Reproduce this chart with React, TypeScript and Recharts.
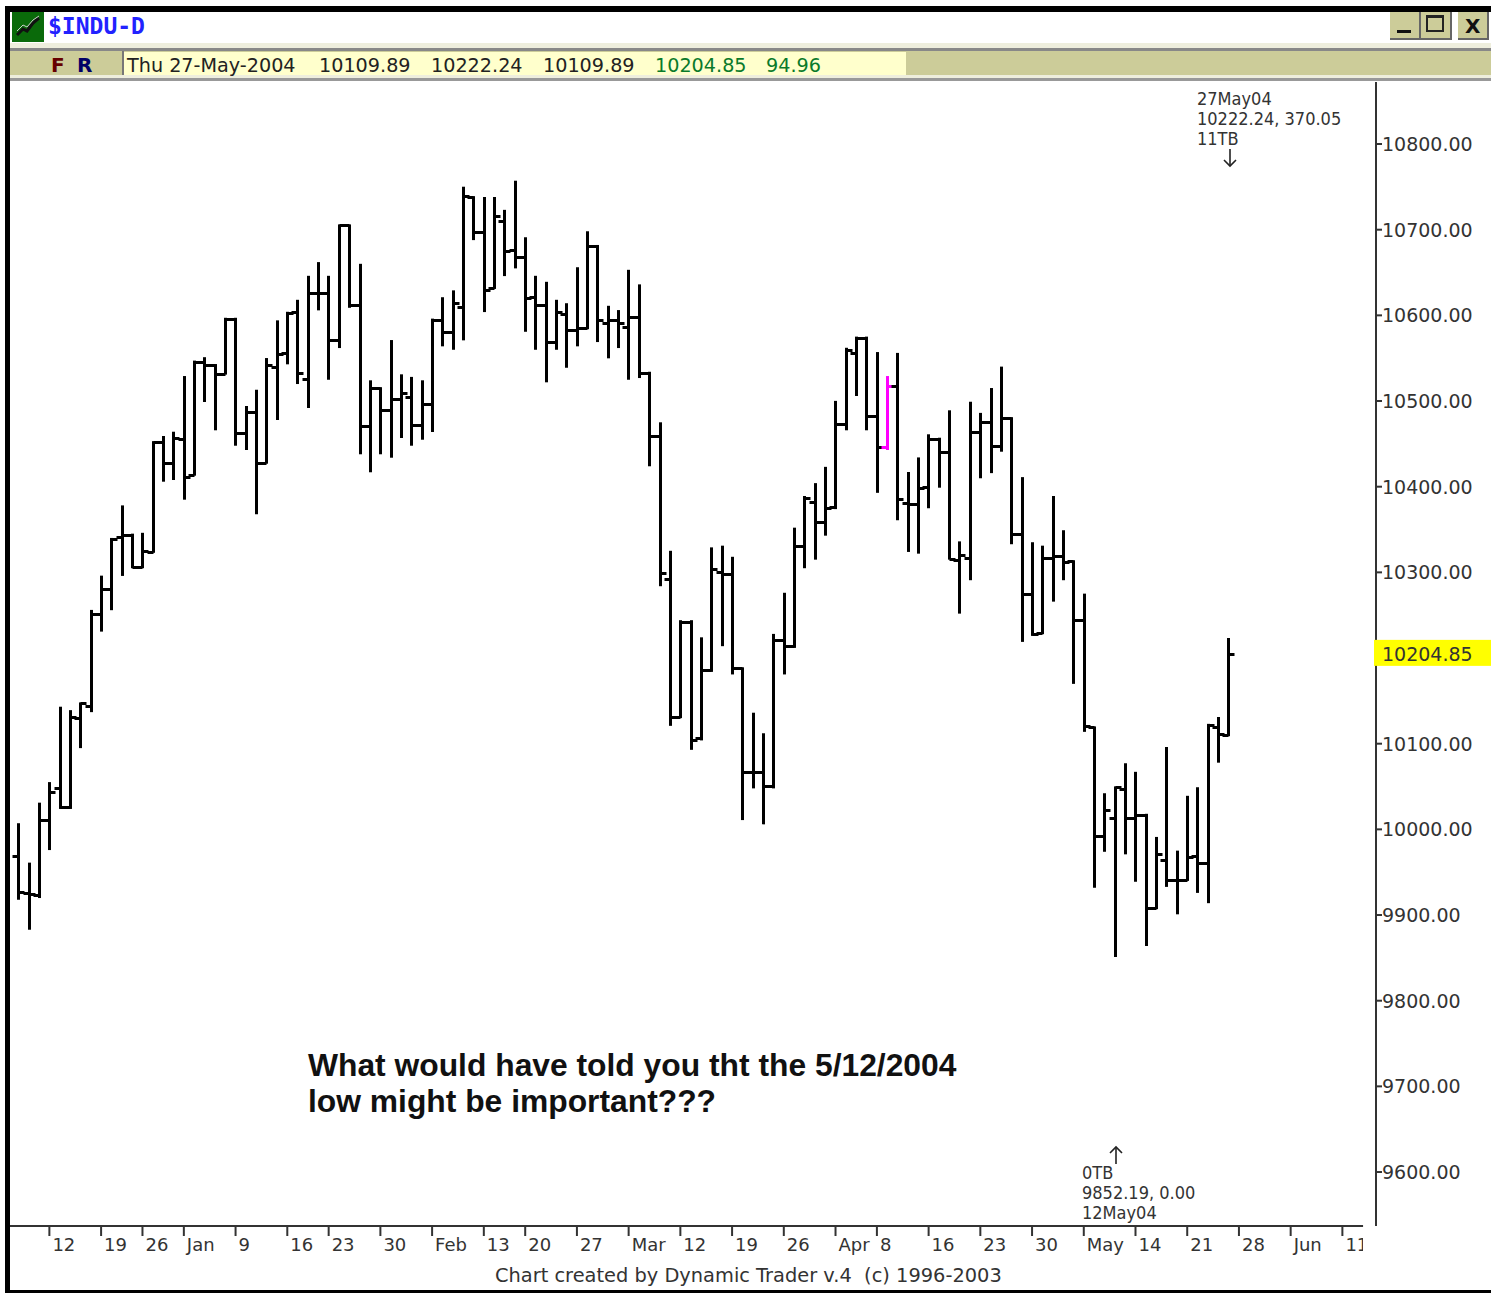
import { Bar, ComposedChart, ReferenceLine, XAxis, YAxis } from 'recharts';

const opens = [9969, 9926, 9923, 10011, 10048, 10026, 10130, 10144, 10251, 10281, 10341, 10344, 10306, 10324, 10452, 10428, 10456, 10414, 10546, 10542, 10532, 10596, 10463, 10487, 10428, 10540, 10556, 10604, 10526, 10626, 10626, 10571, 10705, 10612, 10471, 10515, 10489, 10502, 10505, 10472, 10496, 10595, 10581, 10610, 10738, 10697, 10632, 10710, 10676, 10668, 10621, 10612, 10569, 10602, 10583, 10585, 10681, 10591, 10595, 10586, 10598, 10533, 10459, 10292, 10131, 10242, 10107, 10186, 10300, 10298, 10188, 10067, 10067, 10051, 10221, 10214, 10331, 10382, 10359, 10376, 10473, 10556, 10574, 10482, 10446, 10518, 10381, 10380, 10400, 10456, 10440, 10314, 10317, 10464, 10475, 10447, 10480, 10345, 10275, 10229, 10317, 10319, 10313, 10244, 10119, 9992, 10013, 10047, 10013, 10017, 9908, 9964, 9941, 9941, 9969, 9961, 10119, 10109.89];
const highs = [10006, 9960, 10030, 10054, 10142, 10138, 10147, 10255, 10295, 10339, 10377, 10344, 10345, 10452, 10458, 10463, 10528, 10546, 10550, 10542, 10596, 10596, 10493, 10512, 10549, 10593, 10603, 10617, 10645, 10661, 10645, 10705, 10705, 10659, 10523, 10515, 10570, 10530, 10527, 10523, 10595, 10620, 10628, 10749, 10738, 10737, 10737, 10722, 10756, 10690, 10645, 10638, 10617, 10613, 10655, 10697, 10681, 10610, 10605, 10652, 10635, 10533, 10474, 10324, 10243, 10243, 10223, 10328, 10330, 10317, 10188, 10135, 10111, 10227, 10275, 10351, 10388, 10403, 10422, 10499, 10561, 10574, 10574, 10556, 10528, 10555, 10416, 10433, 10460, 10456, 10488, 10335, 10498, 10485, 10514, 10539, 10480, 10410, 10334, 10330, 10388, 10348, 10313, 10274, 10119, 10041, 10049, 10076, 10066, 10017, 9990, 10095, 9974, 10038, 10048, 10122, 10130, 10222.24];
const lows = [9919, 9884, 9921, 9977, 10025, 10025, 10096, 10138, 10232, 10257, 10297, 10306, 10306, 10324, 10407, 10409, 10386, 10414, 10500, 10467, 10532, 10449, 10444, 10369, 10428, 10479, 10544, 10521, 10493, 10607, 10526, 10563, 10610, 10439, 10418, 10439, 10435, 10458, 10449, 10456, 10465, 10565, 10561, 10572, 10689, 10605, 10632, 10647, 10656, 10582, 10561, 10523, 10561, 10540, 10565, 10585, 10570, 10551, 10563, 10526, 10528, 10425, 10285, 10122, 10131, 10094, 10105, 10185, 10215, 10182, 10012, 10049, 10007, 10049, 10182, 10213, 10306, 10316, 10344, 10375, 10467, 10507, 10467, 10394, 10444, 10362, 10325, 10323, 10376, 10400, 10316, 10253, 10292, 10411, 10417, 10442, 10334, 10220, 10227, 10229, 10267, 10292, 10171, 10115, 9933, 9975, 9852.19, 9972, 9940, 9865, 9908, 9934, 9902, 9941, 9927, 9915, 10079, 10109.89];
const closes = [9927, 9925, 10011, 10044, 10026, 10131, 10147, 10251, 10281, 10339, 10344, 10306, 10325, 10452, 10428, 10457, 10411, 10546, 10542, 10532, 10596, 10463, 10487, 10428, 10542, 10555, 10603, 10533, 10626, 10626, 10571, 10705, 10612, 10471, 10515, 10489, 10502, 10509, 10472, 10496, 10595, 10581, 10614, 10739, 10697, 10630, 10716, 10675, 10668, 10620, 10612, 10569, 10604, 10583, 10585, 10681, 10595, 10595, 10591, 10598, 10533, 10459, 10299, 10131, 10242, 10104, 10186, 10304, 10298, 10188, 10067, 10067, 10051, 10221, 10214, 10331, 10387, 10359, 10375, 10473, 10560, 10574, 10482, 10446, 10518, 10386, 10380, 10398, 10456, 10440, 10316, 10320, 10464, 10475, 10447, 10480, 10345, 10275, 10228, 10317, 10319, 10312, 10244, 10121, 9992, 10023, 10049, 10013, 10017, 9908, 9971, 9941, 9941, 9968, 9961, 10122, 10111, 10204.85];

const highlightBar = 84;
const lastPrice = 10204.85;

const dateTickBars = [3, 8, 12, 16, 21, 26, 30, 35, 40, 45, 49, 54, 59, 64, 69, 74, 79, 83, 88, 93, 98, 103, 108, 113, 118, 123, 128];
const dateTickLabels = ['12', '19', '26', 'Jan', '9', '16', '23', '30', 'Feb', '13', '20', '27', 'Mar', '12', '19', '26', 'Apr', '8', '16', '23', '30', 'May', '14', '21', '28', 'Jun', '11'];
const priceTicks = [9600, 9700, 9800, 9900, 10000, 10100, lastPrice, 10300, 10400, 10500, 10600, 10700, 10800];

const bars = opens.map((open, i) => ({ idx: i, open, high: highs[i], low: lows[i], close: closes[i] }));

const uiFont = '"DejaVu Sans", sans-serif';
const smallFont = '"DejaVu Sans Condensed", "DejaVu Sans", sans-serif';
const headFont = '"Liberation Sans", sans-serif';
const khaki = '#cccc99';

const OhlcBar = (props: any) => {
  const { x, y, width, height, payload } = props;
  // snap to the pixel grid, the original is a bitmap
  const cx = Math.floor(x + width / 2) + 0.5;
  const perUnit = height / (payload.high - payload.low);
  const openY = Math.round(y + (payload.high - payload.open) * perUnit) + 0.5;
  const closeY = Math.round(y + (payload.high - payload.close) * perUnit) + 0.5;
  const color = payload.idx === highlightBar ? '#ff00ff' : '#000';
  return (
    <g stroke={color} strokeWidth={3}>
      <line x1={cx} x2={cx} y1={y - 1} y2={y + height + 1} />
      <line x1={cx - 6} x2={cx} y1={openY} y2={openY} />
      <line x1={cx} x2={cx + 6} y1={closeY} y2={closeY} />
    </g>
  );
};

const DateTick = ({ x, y, payload }: any) => (
  <g>
    <line x1={x} x2={x} y1={y - 10} y2={y} stroke="#333" strokeWidth={2} />
    <text x={x + 3} y={y + 15} fontFamily={uiFont} fontSize={18} fill="#333">
      {dateTickLabels[dateTickBars.indexOf(payload.value)]}
    </text>
  </g>
);

const PriceTick = ({ x, y, payload }: any) => {
  const isLast = payload.value === lastPrice;
  return (
    <g>
      {isLast ? (
        <rect x={x - 8} y={y - 14} width={117} height={26} fill="#ffff00" />
      ) : (
        <line x1={x - 6} x2={x} y1={y} y2={y} stroke="#333" strokeWidth={2} />
      )}
      <text x={x} y={y + 7} fontFamily={uiFont} fontSize={19} fill="#333">
        {payload.value.toFixed(2)}
      </text>
    </g>
  );
};

const Label = ({ x, y, children, style }: any) => (
  <div style={{ position: 'absolute', left: x, top: y, whiteSpace: 'pre', zIndex: 3, lineHeight: 1, ...style }}>
    {children}
  </div>
);

const Box = ({ x, y, w, h, color, style }: any) => (
  <div style={{ position: 'absolute', left: x, top: y, width: w, height: h, background: color, zIndex: 2, ...style }} />
);

const WindowButton = ({ x, w, children }: any) => (
  <div
    style={{
      position: 'absolute', left: x, top: 12, width: w, height: 28, background: khaki, zIndex: 3,
      borderRight: '2px solid #666', borderBottom: '2px solid #666', boxSizing: 'border-box',
    }}
  >
    {children}
  </div>
);

const ArrowMark = ({ x, y, up }: any) => (
  <svg style={{ position: 'absolute', left: x, top: y, zIndex: 3 }} width={16} height={20}>
    <g fill="none" stroke="#222" strokeWidth={1.6} transform={up ? 'translate(0 20) scale(1 -1)' : undefined}>
      <line x1={8} x2={8} y1={1} y2={18} />
      <polyline points="2,12 8,18 14,12" />
    </g>
  </svg>
);

export default function App() {
  const noteStyle = { fontFamily: smallFont, fontSize: 18, color: '#333' };
  const readout = { fontFamily: uiFont, fontSize: 19.2, color: '#222' };
  const green = { fontFamily: uiFont, fontSize: 19.2, color: '#0a7a2a' };
  const headline = { fontFamily: headFont, fontWeight: 700, fontSize: 31.8, color: '#111' };
  return (
    <div style={{ position: 'absolute', left: 0, top: 0, width: 1491, height: 1293, background: '#fff', overflow: 'hidden' }}>
      <ComposedChart
        width={1491}
        height={1293}
        data={bars}
        margin={{ top: 82, right: 0, bottom: 27, left: 8 }}
      >
        <XAxis
          dataKey="idx"
          type="number"
          domain={[-1, 131.25]}
          ticks={dateTickBars}
          interval={0}
          height={40}
          axisLine={false}
          tickLine={false}
          tickSize={10}
          tickMargin={0}
          tick={<DateTick />}
        />
        <YAxis
          orientation="right"
          type="number"
          domain={[9537, 10872.4]}
          ticks={priceTicks}
          interval={0}
          width={115}
          tickSize={6}
          tickMargin={0}
          tickLine={false}
          axisLine={{ stroke: '#333', strokeWidth: 2 }}
          tick={<PriceTick />}
        />
        <ReferenceLine segment={[{ x: -1, y: 9537 }, { x: 130, y: 9537 }]} stroke="#333" strokeWidth={2} />
        <Bar dataKey={(d: any) => [d.low, d.high]} barSize={3} shape={<OhlcBar />} isAnimationActive={false} />
      </ComposedChart>

      {/* window frame */}
      <Box x={5} y={6} w={1486} h={6} color="#000" />
      <Box x={5} y={6} w={5} h={1287} color="#000" />
      <Box x={5} y={1290} w={1486} h={3} color="#000" />
      <Box x={10} y={12} w={1481} h={31} color="#fff" />
      <Box x={10} y={43} w={1481} h={5} color="#eeeedd" />
      <Box x={10} y={48} w={1481} h={3} color="#888" />
      <Box x={10} y={51} w={1481} h={24} color={khaki} />
      <Box x={10} y={75} w={1481} h={3} color="#eeeedd" />
      <Box x={10} y={78} w={1481} h={3} color="#999" />
      <Box x={122} y={51} w={2} h={24} color="#777" />
      <Box x={124} y={52} w={782} h={23} color="#ffffcc" />
      <Box x={1363} y={1232} w={13} h={30} color="#fff" />

      <svg style={{ position: 'absolute', left: 12, top: 12, zIndex: 3 }} width={32} height={30}>
        <rect width={32} height={30} fill="#0a6a0a" />
        <polyline points="5,23 11,17 15,19 21,11 27,6" fill="none" stroke="#111" strokeWidth={3} />
        <polyline points="5,19 11,13 15,15 21,8 27,4" fill="none" stroke="#ccc" strokeWidth={1} />
      </svg>
      <Label x={48} y={15} style={{ fontFamily: '"DejaVu Sans Mono", monospace', fontWeight: 700, fontSize: 23, color: '#2222ff' }}>$INDU-D</Label>

      <WindowButton x={1390} w={31}>
        <div style={{ position: 'absolute', left: 7, top: 18, width: 14, height: 3, background: '#111' }} />
      </WindowButton>
      <WindowButton x={1421} w={31}>
        <div style={{ position: 'absolute', left: 5, top: 3, width: 18, height: 17, border: '2px solid #222', boxSizing: 'border-box', borderTopWidth: 3 }} />
      </WindowButton>
      <WindowButton x={1458} w={31}>
        <div style={{ position: 'absolute', left: 7, top: 2, fontFamily: uiFont, fontWeight: 700, fontSize: 20, color: '#111' }}>X</div>
      </WindowButton>

      <Label x={51} y={55} style={{ fontFamily: uiFont, fontWeight: 700, fontSize: 20, color: '#660000' }}>F</Label>
      <Label x={77} y={55} style={{ fontFamily: uiFont, fontWeight: 700, fontSize: 20, color: '#000066' }}>R</Label>
      <Label x={127} y={56} style={readout}>Thu 27-May-2004</Label>
      <Label x={319} y={56} style={readout}>10109.89</Label>
      <Label x={431} y={56} style={readout}>10222.24</Label>
      <Label x={543} y={56} style={readout}>10109.89</Label>
      <Label x={655} y={56} style={green}>10204.85</Label>
      <Label x={766} y={56} style={green}>94.96</Label>

      <Label x={1197} y={90} style={noteStyle}>27May04</Label>
      <Label x={1197} y={110} style={noteStyle}>10222.24, 370.05</Label>
      <Label x={1197} y={130} style={noteStyle}>11TB</Label>
      <ArrowMark x={1222} y={148} />

      <ArrowMark x={1108} y={1145} up />
      <Label x={1082} y={1164} style={noteStyle}>0TB</Label>
      <Label x={1082} y={1184} style={noteStyle}>9852.19, 0.00</Label>
      <Label x={1082} y={1204} style={noteStyle}>12May04</Label>

      <Label x={308} y={1050} style={headline}>What would have told you tht the 5/12/2004</Label>
      <Label x={308} y={1086} style={headline}>low might be important???</Label>

      <Label x={495} y={1266} style={{ fontFamily: uiFont, fontSize: 19.4, color: '#333' }}>Chart created by Dynamic Trader v.4  (c) 1996-2003</Label>
    </div>
  );
}
